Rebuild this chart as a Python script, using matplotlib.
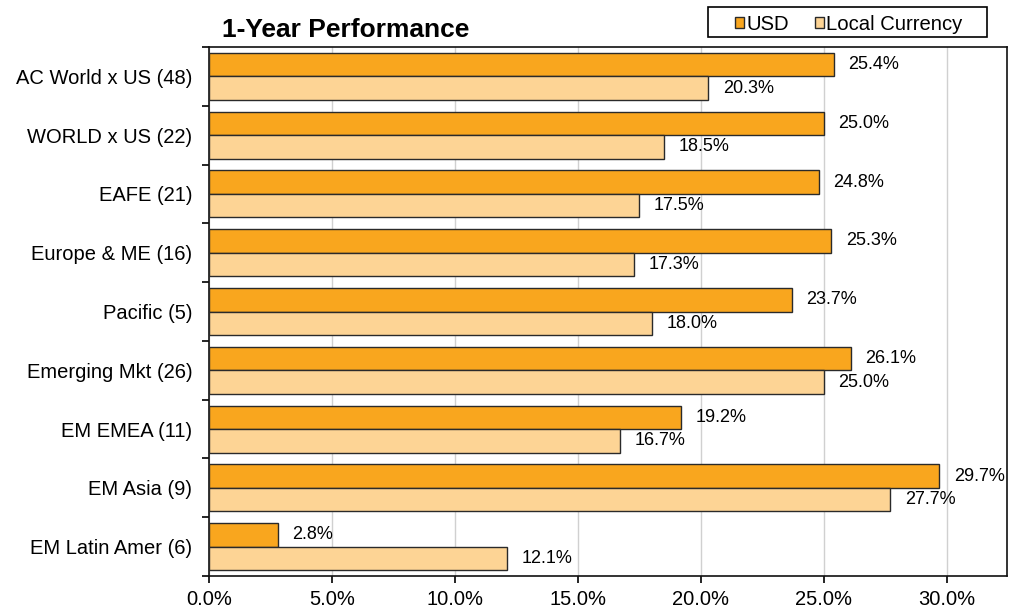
import numpy as np
import matplotlib.pyplot as plt
from matplotlib.patches import Rectangle
from matplotlib.ticker import FixedLocator, FuncFormatter

plt.rcParams['font.family'] = ['Liberation Sans', 'DejaVu Sans']

# Data
regions = ['AC World x US (48)', 'WORLD x US (22)', 'EAFE (21)', 'Europe & ME (16)',
           'Pacific (5)', 'Emerging Mkt (26)', 'EM EMEA (11)', 'EM Asia (9)',
           'EM Latin Amer (6)']
usd = [25.4, 25.0, 24.8, 25.3, 23.7, 26.1, 19.2, 29.7, 2.8]
local = [20.3, 18.5, 17.5, 17.3, 18.0, 25.0, 16.7, 27.7, 12.1]

usd_color = '#F9A61E'
local_color = '#FDD495'

fig = plt.figure(figsize=(10.26, 6.09), dpi=100)
ax = fig.add_axes([0.2037, 0.0542, 0.7778, 0.8686])

y = np.arange(len(regions))
h = 0.4
ax.barh(y - h / 2, usd, height=h, color=usd_color, edgecolor='#2a2a2a',
        linewidth=1, label='USD', zorder=3)
ax.barh(y + h / 2, local, height=h, color=local_color, edgecolor='#2a2a2a',
        linewidth=1, label='Local Currency', zorder=3)

# value labels
for i in range(len(regions)):
    ax.annotate(f'{usd[i]:.1f}%', (usd[i], y[i] - h / 2), xytext=(10.5, 0),
                textcoords='offset points', va='center', ha='left', fontsize=13)
    ax.annotate(f'{local[i]:.1f}%', (local[i], y[i] + h / 2), xytext=(10.5, 0),
                textcoords='offset points', va='center', ha='left', fontsize=13)

ax.set_xlim(0, 32.45)
ax.set_ylim(len(regions) - 0.5, -0.5)

ax.set_xticks(np.arange(0, 31, 5))
ax.xaxis.set_major_formatter(FuncFormatter(lambda v, p: f'{v:.1f}%'))
ax.tick_params(axis='x', labelsize=14.5, length=5, width=1.2, direction='out', pad=5)
ax.xaxis.grid(True, color='#d0d0d0', linewidth=1, zorder=0)

ax.set_yticks(y)
ax.set_yticklabels(regions, fontsize=14.5)
ax.tick_params(axis='y', which='major', length=0, pad=12)
ax.yaxis.set_minor_locator(FixedLocator(np.arange(-0.5, len(regions), 1)))
ax.tick_params(axis='y', which='minor', length=5, width=1.2, direction='out')

for s in ax.spines.values():
    s.set_linewidth(1.2)
    s.set_color('#111111')

fig.text(0.216, 0.95, '1-Year Performance', fontsize=19, fontweight='bold',
         va='center', ha='left')

# legend box drawn separately so the padding matches
fig.patches.append(Rectangle((0.690, 0.9392), 0.2719, 0.0493, transform=fig.transFigure,
                             facecolor='white', edgecolor='black', linewidth=1.2))
fig.legend(loc='center left', bbox_to_anchor=(0.7163, 0.9605), ncol=2,
           fontsize=14.6, frameon=False, handlelength=0.45, handleheight=0.45,
           handletextpad=0.1, columnspacing=1.3, borderpad=0, borderaxespad=0)

fig.savefig('out.png', dpi=100)
